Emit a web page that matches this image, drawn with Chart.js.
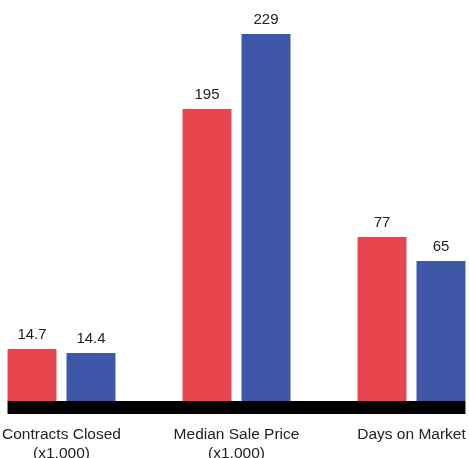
<!DOCTYPE html>
<html>
<head>
<meta charset="utf-8">
<script src="https://cdn.jsdelivr.net/npm/chart.js@4/dist/chart.umd.min.js"></script>
<style>
  html, body { margin: 0; padding: 0; background: #fff; }
  #wrap { width: 469px; height: 458px; position: relative; }
</style>
</head>
<body>
<div id="wrap"><canvas id="chart"></canvas></div>
<script>
// ---- Data ---------------------------------------------------------------
const categories = [
  ['Contracts Closed', '(x1,000)'],
  ['Median Sale Price', '(x1,000)'],
  ['Days on Market']
];
const seriesRed  = [14.7, 195, 77];
const seriesBlue = [14.4, 229, 65];

// Each metric sits on its own (hidden) value scale, like the infographic.
const metricMin = [10.8, 62.6, -5];
const metricMax = [38.3, 229, 178.5];

const RED  = '#e8454f';
const BLUE = '#3e57a6';
const FONT = '"Liberation Sans", Arial, sans-serif';

// One dataset per metric+series; skipNull keeps two bars per group.
const datasets = [];
const scales = {
  x: {
    offset: false,
    grid: { display: false, drawTicks: false },
    border: { display: false },
    ticks: {
      color: '#222',
      font: { family: FONT, size: 15.5, lineHeight: 1.25 },
      padding: 24,
      maxRotation: 0,
      autoSkip: false
    },
    afterFit: function (scale) {
      // fixed axis band, and no extra side padding for the edge labels
      scale.height = 57;
      scale.paddingLeft = 0;
      scale.paddingRight = 0;
    }
  }
};
categories.forEach(function (_, i) {
  const axisId = 'y' + i;
  scales[axisId] = { display: false, min: metricMin[i], max: metricMax[i] };
  [[seriesRed, RED], [seriesBlue, BLUE]].forEach(function (pair) {
    datasets.push({
      data: categories.map(function (_, j) { return j === i ? pair[0][i] : null; }),
      backgroundColor: pair[1],
      yAxisID: axisId,
      base: metricMin[i],
      skipNull: true,
      clip: false,
      categoryPercentage: 0.674,
      barPercentage: 0.83
    });
  });
});

// Thick black baseline + value labels on top of the bars.
const baselineAndValues = {
  id: 'baselineAndValues',
  afterDatasetsDraw: function (chart) {
    const ctx  = chart.ctx;
    const area = chart.chartArea;
    const first = chart.getDatasetMeta(0).data[0];
    const last  = chart.getDatasetMeta(datasets.length - 1).data[categories.length - 1];
    const left  = first.x - first.width / 2;
    const right = last.x + last.width / 2;
    ctx.save();
    ctx.fillStyle = '#000';
    ctx.fillRect(left, area.bottom, right - left, 13);

    ctx.fillStyle = '#222';
    ctx.font = '15px ' + FONT;
    ctx.textAlign = 'center';
    ctx.textBaseline = 'alphabetic';
    chart.data.datasets.forEach(function (ds, d) {
      chart.getDatasetMeta(d).data.forEach(function (bar, j) {
        const v = ds.data[j];
        if (v == null) return;
        ctx.fillText(String(v), bar.x, bar.y - 10);
      });
    });
    ctx.restore();
  }
};

new Chart(document.getElementById('chart'), {
  type: 'bar',
  data: { labels: categories, datasets: datasets },
  options: {
    responsive: true,
    maintainAspectRatio: false,
    animation: false,
    layout: { padding: { top: 34, left: 61.5, right: 57.5, bottom: 0 } },
    scales: scales,
    plugins: { legend: { display: false }, tooltip: { enabled: false } }
  },
  plugins: [baselineAndValues]
});
</script>
</body>
</html>
